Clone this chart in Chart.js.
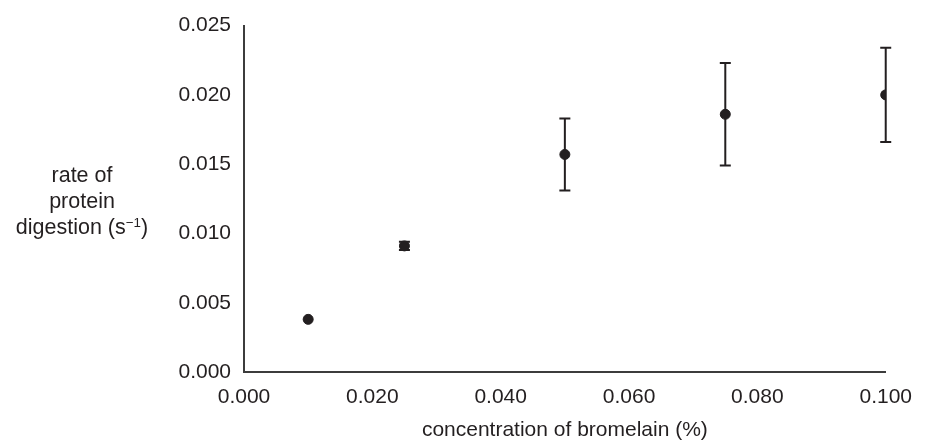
<!DOCTYPE html>
<html>
<head>
<meta charset="utf-8">
<script src="https://cdn.jsdelivr.net/npm/chart.js@4/dist/chart.umd.min.js"></script>
<style>
    body { margin: 0; background: #fff; }
    .wrap { position: relative; width: 925px; height: 448px; }
    #yTitle {
        position: absolute; left: 0; top: 162px; width: 164px;
        text-align: center; font-family: "Liberation Sans", Arial, sans-serif;
        font-size: 21.5px; line-height: 26px; color: #231f20;
    }
    #yTitle sup { font-size: 0.62em; line-height: 0; vertical-align: 0.55em; }
</style>
</head>
<body>
<div class="wrap">
    <canvas id="rateChart" width="925" height="448"></canvas>
    <div id="yTitle">rate of<br>protein<br>digestion (s<sup>−1</sup>)</div>
</div>
<script>
// data
const concentration = [0.010, 0.025, 0.050, 0.075, 0.100];
const rate = [0.0038, 0.0091, 0.0157, 0.0186, 0.0200];
const rateError = [0, 0.0003, 0.0026, 0.0037, 0.0034];
const xTicks = [0, 0.02, 0.04, 0.06, 0.08, 0.1];
const yTicks = [0, 0.005, 0.01, 0.015, 0.02, 0.025];

const ink = '#231f20';
const axisColor = '#3c3c3c';
const font = { family: '"Liberation Sans", Arial, sans-serif', size: 21 };

// error bars drawn with the chart's own scales
const errorBars = {
    id: 'errorBars',
    beforeDatasetsDraw(chart) {
        const { ctx, scales: { x, y } } = chart;
        ctx.save();
        ctx.strokeStyle = ink;
        ctx.lineWidth = 2;
        concentration.forEach((c, i) => {
            if (!rateError[i]) return;
            const px = x.getPixelForValue(c);
            const top = y.getPixelForValue(rate[i] + rateError[i]);
            const bot = y.getPixelForValue(rate[i] - rateError[i]);
            ctx.beginPath();
            ctx.moveTo(px, top); ctx.lineTo(px, bot);
            ctx.moveTo(px - 5.5, top); ctx.lineTo(px + 5.5, top);
            ctx.moveTo(px - 5.5, bot); ctx.lineTo(px + 5.5, bot);
            ctx.stroke();
        });
        ctx.restore();
    }
};

const rateCtx = document.getElementById('rateChart').getContext('2d');
new Chart(rateCtx, {
    type: 'scatter',
    data: {
        datasets: [{
            data: concentration.map((c, i) => ({ x: c, y: rate[i] })),
            backgroundColor: ink,
            borderColor: ink,
            pointRadius: 5,
            pointHoverRadius: 5
        }]
    },
    options: {
        responsive: false,
        animation: false,
        layout: { padding: { top: 25, right: 35, left: 0, bottom: 0 } },
        plugins: {
            legend: { display: false },
            tooltip: { enabled: false }
        },
        scales: {
            x: {
                type: 'linear',
                min: 0,
                max: 0.1,
                afterBuildTicks: scale => { scale.ticks = xTicks.map(v => ({ value: v })); },
                afterFit: scale => { scale.height = 76; },
                grid: { display: false, drawTicks: false },
                border: { display: true, color: axisColor, width: 2 },
                ticks: {
                    color: ink, font: font, padding: 13, maxRotation: 0,
                    callback: v => v.toFixed(3)
                },
                title: {
                    display: true,
                    text: 'concentration of bromelain (%)',
                    color: ink, font: font,
                    padding: { top: 0, bottom: 5 }
                }
            },
            y: {
                min: 0,
                max: 0.025,
                afterBuildTicks: scale => { scale.ticks = yTicks.map(v => ({ value: v })); },
                afterFit: scale => { scale.width = 244; },
                grid: { display: false, drawTicks: false },
                border: { display: true, color: axisColor, width: 2 },
                ticks: {
                    color: ink, font: font, padding: 13,
                    callback: v => v.toFixed(3)
                }
            }
        }
    },
    plugins: [errorBars]
});
</script>
</body>
</html>
